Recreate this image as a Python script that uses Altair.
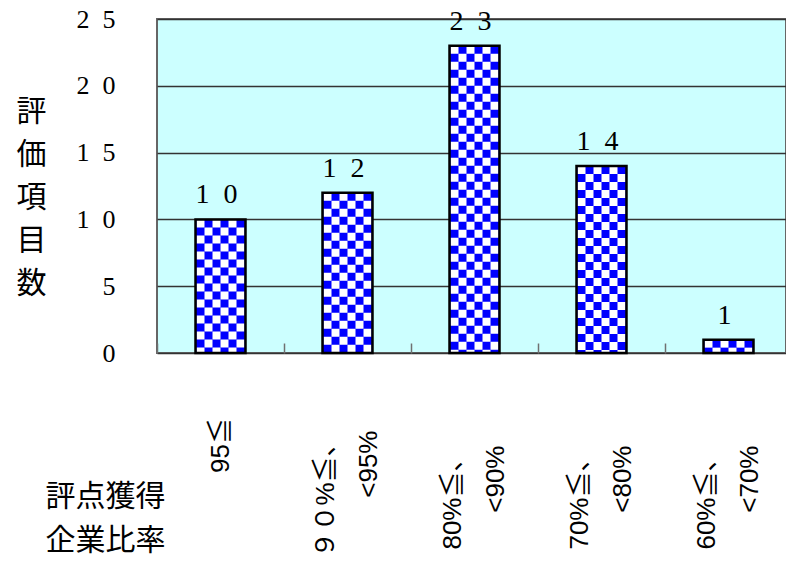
import altair as alt
import pandas as pd

# ---- data ----
line1 = ["95≦", "９０%≦、", "80%≦、", "70%≦、", "60%≦、"]
line2 = ["", "<95%", "<90%", "<80%", "<70%"]
counts = [10, 12, 23, 14, 1]
y_ticks = [0, 5, 10, 15, 20, 25]
x_title = ["評点獲得", "企業比率"]
y_title = ["評", "価", "項", "目", "数"]

cats = [a if not b else a + "|" + b for a, b in zip(line1, line2)]
df = pd.DataFrame({"cat": cats, "n": counts})

SP = "\u2002"  # en space between digits, like the full-width digit spacing
digit_expr = ("length({v})>1 ? substring({v},0,1)+'" + SP + "'+substring({v},1) : {v}")

single = "datum.value === '" + cats[0] + "'"
wide = "datum.value === '" + cats[1] + "'"

x_enc = alt.X(
    "cat:N",
    sort=cats,
    scale=alt.Scale(range=[0, 635], paddingInner=0, paddingOuter=0),
    axis=alt.Axis(
        orient="bottom",
        offset=-10,
        tickBand="extent",
        tickSize=10,
        tickColor="#707070",
        tickWidth=1.5,
        domain=False,
        grid=False,
        labelAngle=270,
        labelPadding={"condition": {"test": wide, "value": 77}, "value": 92},
        labelAlign={"condition": {"test": single, "value": "center"}, "value": "right"},
        labelOffset={"condition": {"test": single, "value": 0}, "value": -22},
        labelBaseline="middle",
        labelLineHeight=43,
        labelFontSize=26,
        labelFont="Liberation Sans, Noto Sans CJK JP",
        labelColor="black",
        labelLimit=400,
        labelOverlap=False,
        labelExpr="split(datum.label, '|')",
        title=x_title,
        titleFont="Noto Sans CJK JP",
        titleFontSize=30,
        titleFontWeight="normal",
        titleColor="black",
        titleAngle=0,
        titleAlign="center",
        titleBaseline="middle",
        titleLineHeight=44,
        titleX=-52,
        titleY=153,
        titleLimit=500,
    ),
)

y_enc = alt.Y(
    "n:Q",
    scale=alt.Scale(domain=[0, 25], nice=False),
    axis=alt.Axis(
        values=y_ticks,
        domain=False,
        ticks=False,
        labelPadding=42,
        labelFont="Liberation Serif",
        labelFontSize=26,
        labelColor="black",
        labelExpr=digit_expr.format(v="datum.label"),
        gridColor="#333333",
        gridWidth=1.5,
        title=y_title,
        titleFont="Noto Sans CJK JP",
        titleFontSize=30,
        titleFontWeight="normal",
        titleColor="black",
        titleAngle=0,
        titleAlign="center",
        titleBaseline="middle",
        titleLineHeight=43,
        titleX=-126,
        titleY=92,
    ),
)

base = alt.Chart(df).encode(x=x_enc)

fill = base.mark_bar(width=50, fill="#0000FF").encode(y=y_enc)

offsets = [-20, -12, -4, 4, 12, 20]
checks = [
    base.mark_rule(
        color="white",
        strokeWidth=8,
        strokeDash=[8, 8],
        strokeDashOffset=(8 if i % 2 else 0),
        xOffset=o,
    ).encode(y=y_enc, y2=alt.datum(0))
    for i, o in enumerate(offsets)
]

outline = base.mark_bar(width=50, fill="white", fillOpacity=0, stroke="black", strokeWidth=2.5).encode(y=y_enc)

labels = base.transform_calculate(
    lbl=digit_expr.format(v="toString(datum.n)")
).mark_text(
    font="Liberation Serif", fontSize=28, baseline="alphabetic", dy=-16, dx=-4, color="black"
).encode(y=y_enc, text="lbl:N")

chart = alt.layer(fill, *checks, outline, labels).properties(
    width=629,
    height=334,
    autosize=alt.AutoSizeParams(type="none"),
    padding={"left": 157, "top": 19, "right": 0, "bottom": 209},
    background="white",
).configure_view(
    fill="#CCFFFF", stroke="#666666", strokeWidth=2
)

chart.save("out.html", embed_options={"renderer": "svg", "actions": False})
